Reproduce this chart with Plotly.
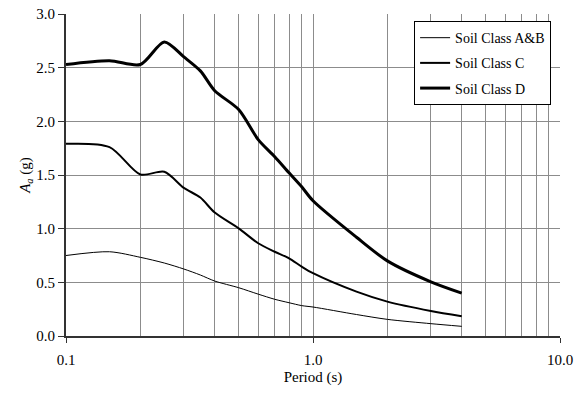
import plotly.graph_objects as go

periods = [0.1, 0.15, 0.2, 0.25, 0.3, 0.35, 0.4, 0.5, 0.6, 0.7, 0.8, 0.9, 1.0, 1.5, 2.0, 3.0, 4.0]
soil_ab = [0.75, 0.785, 0.733, 0.68, 0.624, 0.568, 0.512, 0.45, 0.39, 0.342, 0.31, 0.283, 0.27, 0.20, 0.155, 0.115, 0.09]
soil_c = [1.79, 1.76, 1.505, 1.53, 1.38, 1.29, 1.15, 1.003, 0.864, 0.785, 0.724, 0.646, 0.585, 0.413, 0.32, 0.233, 0.185]
soil_d = [2.53, 2.565, 2.53, 2.74, 2.60, 2.47, 2.285, 2.11, 1.83, 1.67, 1.52, 1.39, 1.26, 0.92, 0.70, 0.505, 0.40]

series_names = ["Soil Class A&B", "Soil Class C", "Soil Class D"]
x_major = [0.1, 1.0, 10.0]
x_major_text = ["0.1", "1.0", "10.0"]
x_minor = [0.2, 0.3, 0.4, 0.5, 0.6, 0.7, 0.8, 0.9, 2, 3, 4, 5, 6, 7, 8, 9]

FONT = "Liberation Serif, Times New Roman, serif"

fig = go.Figure()
for name, vals, w, grp in zip(series_names, [soil_ab, soil_c, soil_d], [1, 2, 3], ["a", "b", "c"]):
    fig.add_trace(go.Scatter(
        x=periods, y=vals, mode="lines", name=name, legendgroup=grp,
        line=dict(color="black", width=w, shape="spline", smoothing=0.8),
    ))

fig.update_layout(
    width=574, height=393,
    margin=dict(l=66, r=14, t=14, b=57, autoexpand=False),
    paper_bgcolor="white", plot_bgcolor="white",
    font=dict(family=FONT, size=15, color="black"),
    showlegend=True,
    legend=dict(
        x=0.982, y=0.978, xanchor="right", yanchor="top",
        bgcolor="white", bordercolor="black", borderwidth=1,
        font=dict(family=FONT, size=14, color="black"),
        tracegroupgap=4, itemwidth=30,
    ),
    xaxis=dict(
        type="log", range=[-1, 1], automargin=False,
        tickvals=x_major, ticktext=x_major_text,
        ticks="outside", ticklen=5, tickcolor="#333", tickwidth=1,
        ticklabelstandoff=4,
        tickfont=dict(family=FONT, size=15),
        showgrid=True, gridcolor="#8c8c8c", gridwidth=1,
        minor=dict(tickvals=x_minor, showgrid=True, gridcolor="#8c8c8c", gridwidth=1, ticks=""),
        showline=True, linecolor="#333", linewidth=2,
        zeroline=False,
        title=dict(text="Period (s)", font=dict(family=FONT, size=15), standoff=4),
    ),
    yaxis=dict(
        range=[0, 3], dtick=0.5, tickformat=".1f", automargin=False,
        ticks="outside", ticklen=6, tickcolor="#333", tickwidth=1,
        tickfont=dict(family=FONT, size=15),
        showgrid=True, gridcolor="#8c8c8c", gridwidth=1,
        showline=True, linecolor="#333", linewidth=2,
        zeroline=False,
        title=dict(text="<i>A<sub>a</sub></i> (g)", font=dict(family=FONT, size=15), standoff=2),
    ),
)

fig.write_html("out.html", config={"displayModeBar": False},
               post_script="document.body.style.margin='0';document.body.style.overflow='hidden';")
